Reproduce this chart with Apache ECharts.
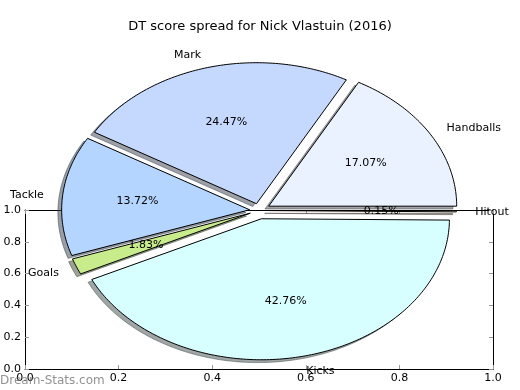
<!DOCTYPE html>
<html>
<head>
<meta charset="utf-8">
<script src="https://cdn.jsdelivr.net/npm/echarts@6/dist/echarts.min.js"></script>
<style>
  html, body { margin: 0; padding: 0; background: #fff; }
  #chart { width: 520px; height: 390px; }
</style>
</head>
<body>
<div id="chart"></div>
<script>
// ---- data ----
const categories = ['Handballs', 'Mark', 'Tackle', 'Goals', 'Kicks', 'Hitout'];
const values = [17.07, 24.47, 13.72, 1.83, 42.76, 0.15];
const frameTicks = [0.0, 0.2, 0.4, 0.6, 0.8, 1.0];
const titleText = 'DT score spread for Nick Vlastuin (2016)';
const watermark = 'Dream-Stats.com';

// ---- styling / layout (not data) ----
const sliceColors = ['#ebf2ff', '#c5d9ff', '#b4d5ff', '#c8eb8b', '#d8ffff', '#ffe4c4'];
const explode = [0.06, 0.05, 0.05, 0.05, 0.06, 0.05];
const PIE = { cx: 259, cy: 210.5, rx: 188, ry: 141 };
const FONT = '"DejaVu Sans", "Liberation Sans", sans-serif';

const total = values.reduce((a, b) => a + b, 0);
const cum = [0];
values.forEach(v => cum.push(cum[cum.length - 1] + v));

function hexToRgb(h) {
  const n = parseInt(h.slice(1), 16);
  return [(n >> 16) & 255, (n >> 8) & 255, n & 255];
}

function wedgePoints(ox, oy, a1, a2) {
  const pts = [[ox, oy]];
  const steps = Math.max(2, Math.ceil((a2 - a1) * 180 / Math.PI));
  for (let k = 0; k <= steps; k++) {
    const t = a1 + (a2 - a1) * k / steps;
    pts.push([ox + PIE.rx * Math.cos(t), oy - PIE.ry * Math.sin(t)]);
  }
  return pts;
}

function renderItem(params, api) {
  const i = params.dataIndex;
  const a1 = cum[i] / total * 2 * Math.PI;
  const a2 = cum[i + 1] / total * 2 * Math.PI;
  const mid = (a1 + a2) / 2;
  const e = explode[i];
  const ox = PIE.cx + PIE.rx * e * Math.cos(mid);
  const oy = PIE.cy - PIE.ry * e * Math.sin(mid);
  const pts = wedgePoints(ox, oy, a1, a2);
  const sdx = -0.02 * PIE.rx, sdy = 0.02 * PIE.ry;
  const spts = pts.map(p => [p[0] + sdx, p[1] + sdy]);
  const rgb = hexToRgb(sliceColors[i]);
  const shade = 'rgba(' + Math.round(rgb[0] * 0.3) + ',' + Math.round(rgb[1] * 0.3) + ',' + Math.round(rgb[2] * 0.3) + ',0.5)';
  const c = Math.cos(mid), s = Math.sin(mid);
  const lx = ox + 1.1 * PIE.rx * c, ly = oy - 1.1 * PIE.ry * s;
  const px = ox + 0.6 * PIE.rx * c, py = oy - 0.6 * PIE.ry * s;
  const pct = (api.value(0) / total * 100).toFixed(2) + '%';
  return {
    type: 'group',
    children: [
      { type: 'polygon', z2: 1, shape: { points: spts },
        style: { fill: shade, stroke: shade, lineWidth: 1 } },
      { type: 'polygon', z2: 10, shape: { points: pts },
        style: { fill: sliceColors[i], stroke: '#000', lineWidth: 1 } },
      { type: 'text', z2: 20, x: lx, y: ly + 1,
        style: { text: categories[i], fill: '#000', font: '11px ' + FONT,
                 align: c > 0 ? 'left' : 'right', verticalAlign: 'middle' } },
      { type: 'text', z2: 20, x: px, y: py,
        style: { text: pct, fill: '#000', font: '11px ' + FONT,
                 align: 'center', verticalAlign: 'middle' } }
    ]
  };
}

const axisCommon = {
  type: 'value', min: 0, max: 1, interval: 0.2,
  axisLine: { show: true, onZero: false, lineStyle: { color: '#000', width: 1 } },
  axisTick: { show: true, inside: true, length: 4, lineStyle: { color: '#999', width: 1 } },
  splitLine: { show: false }
};

const chart = echarts.init(document.getElementById('chart'), null, { renderer: 'canvas' });
chart.setOption({
  animation: false,
  backgroundColor: '#fff',
  textStyle: { fontFamily: FONT },
  title: {
    text: titleText, left: 'center', top: 20, padding: 0,
    textStyle: { fontSize: 13, fontWeight: 'normal', color: '#000', fontFamily: FONT }
  },
  grid: { left: 25, top: 210, width: 468, height: 159, containLabel: false },
  xAxis: [
    Object.assign({}, axisCommon, {
      position: 'bottom',
      axisLabel: { show: true, margin: 4, fontSize: 11, color: '#000', fontFamily: FONT,
                   formatter: v => frameTicks.find(t => Math.abs(t - v) < 1e-9).toFixed(1),
                   showMinLabel: true, showMaxLabel: true, hideOverlap: false }
    }),
    Object.assign({}, axisCommon, { position: 'top', axisLabel: { show: false } })
  ],
  yAxis: [
    Object.assign({}, axisCommon, {
      position: 'left',
      axisLabel: { show: true, margin: 4, fontSize: 11, color: '#000', fontFamily: FONT,
                   formatter: v => frameTicks.find(t => Math.abs(t - v) < 1e-9).toFixed(1),
                   showMinLabel: true, showMaxLabel: true, hideOverlap: false }
    }),
    Object.assign({}, axisCommon, { position: 'right', axisLabel: { show: false } })
  ],
  graphic: [
    { type: 'text', z: 100, x: 0, y: 381,
      style: { text: watermark, font: '12px ' + FONT, fill: 'rgba(110,110,110,0.75)',
               align: 'left', verticalAlign: 'middle' } }
  ],
  series: [{
    type: 'custom',
    coordinateSystem: 'none',
    silent: true,
    z: 5,
    data: values.map(v => [v]),
    renderItem: renderItem
  }]
});
</script>
</body>
</html>
